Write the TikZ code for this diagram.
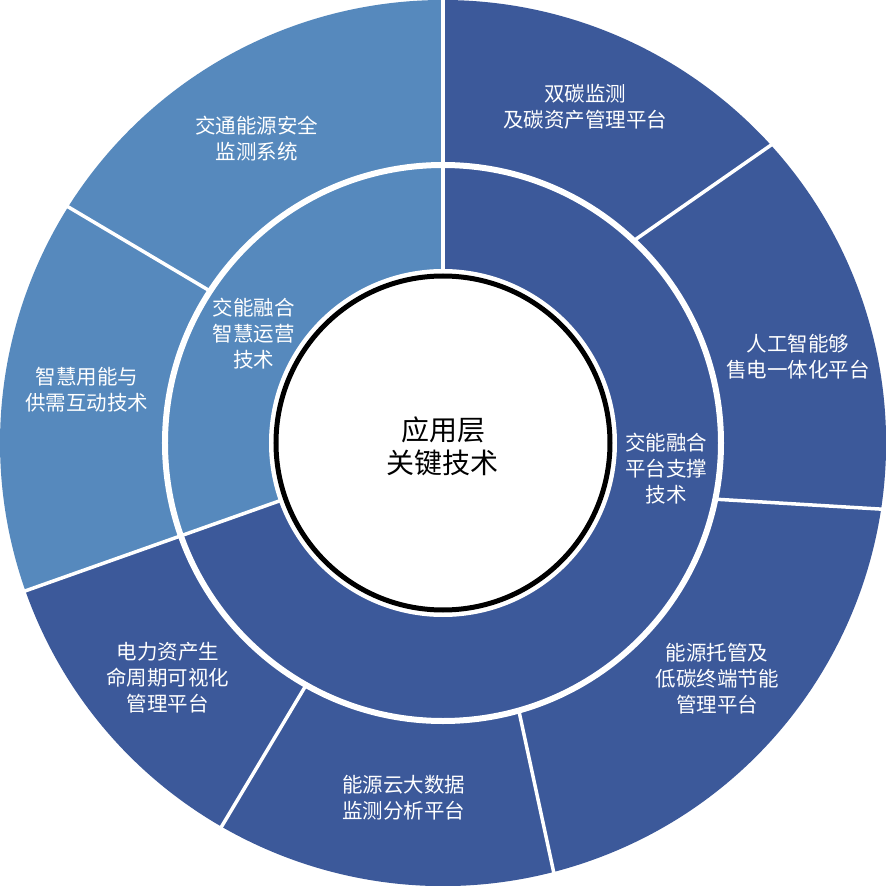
\documentclass[tikz,border=0pt]{standalone}
\usepackage{fontspec}
\setmainfont{Noto Sans CJK SC}
\definecolor{darkb}{RGB}{60,89,154}
\definecolor{lightb}{RGB}{86,137,189}
\begin{document}
\begin{tikzpicture}[x=1pt,y=1pt,
  sep/.style={white,line width=3.5pt},
  lbl/.style={text=white,align=center,font=\fontsize{20.5}{26}\selectfont,inner sep=0pt},
  ctr/.style={text=black,align=center,font=\fontsize{28}{33}\selectfont,inner sep=0pt}]
\useasboundingbox (-443,-443) rectangle (443,443);
% rings
\fill[lightb] (0,0) -- (90:443pt) arc[start angle=90,end angle=199.5,radius=443pt] -- cycle;
\fill[darkb] (0,0) -- (199.5:443pt) arc[start angle=199.5,end angle=450,radius=443pt] -- cycle;
\draw[white,line width=6pt] (0,0) circle[radius=278pt];
\fill[white] (0,0) circle[radius=174pt];
\draw[black,line width=5pt] (0,0) circle[radius=167pt];
% separators
\coordinate (t1) at (90:172pt);   \coordinate (t2) at (90:446pt);
\coordinate (ll1) at (199.5:172pt); \coordinate (ll2) at (199.5:446pt);
\coordinate (ur1) at (46.6:280pt); \coordinate (ur2) at (42.2:446pt);
\coordinate (r1) at (-11.6:280pt); \coordinate (r2) at (-8.55:446pt);
\coordinate (lr1) at (-74.2:280pt); \coordinate (lr2) at (-75.55:446pt);
\coordinate (b1) at (240.5:280pt); \coordinate (b2) at (240.0:446pt);
\coordinate (ul1) at (146.9:280pt); \coordinate (ul2) at (147.8:446pt);
\draw[sep] (t1) -- (t2);
\draw[sep] (ll1) -- (ll2);
\draw[sep] (ur1) -- (ur2);
\draw[sep] (r1) -- (r2);
\draw[sep] (lr1) -- (lr2);
\draw[sep] (b1) -- (b2);
\draw[sep] (ul1) -- (ul2);
% labels
\node[ctr] (center) at (0,-3) {应用层\\关键技术};
\node[lbl] (inA) at (-189,109) {交能融合\\智慧运营\\技术};
\node[lbl] (inB) at (223,-26) {交能融合\\平台支撑\\技术};
\node[lbl] (o1) at (142,336) {双碳监测\\及碳资产管理平台};
\node[lbl] (o2) at (355,86) {人工智能够\\售电一体化平台};
\node[lbl] (o3) at (274,-236) {能源托管及\\低碳终端节能\\管理平台};
\node[lbl] (o4) at (-39,-355) {能源云大数据\\监测分析平台};
\node[lbl] (o5) at (-275,-235) {电力资产生\\命周期可视化\\管理平台};
\node[lbl] (o6) at (-356,53) {智慧用能与\\供需互动技术};
\node[lbl] (o7) at (-186,304) {交通能源安全\\监测系统};
\end{tikzpicture}
\end{document}
